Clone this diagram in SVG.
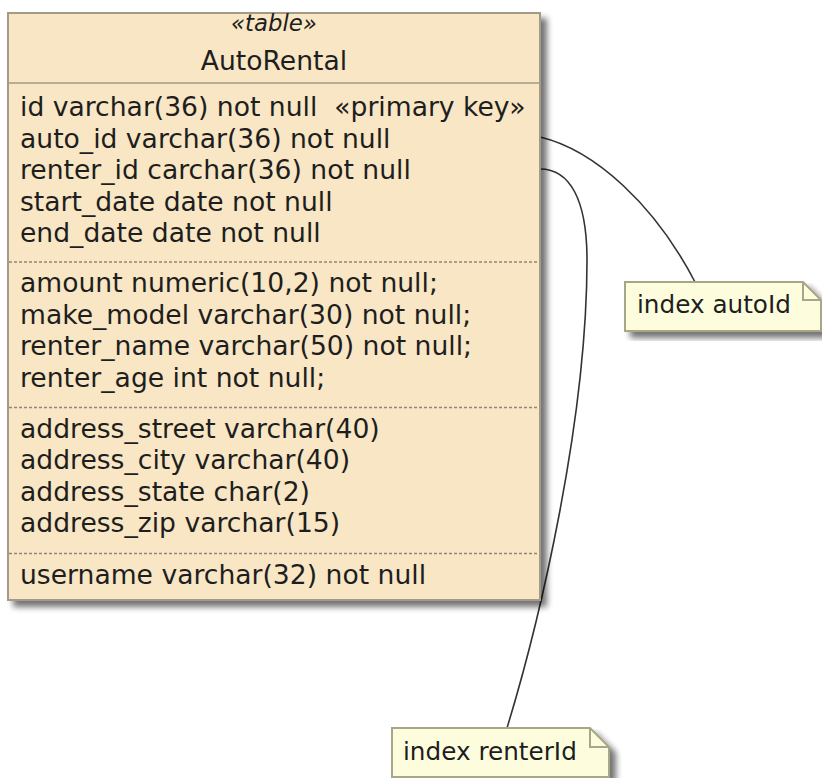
<svg xmlns="http://www.w3.org/2000/svg" width="822" height="778" viewBox="0 0 822 778">
<defs>
<filter id="shadow" x="-10%" y="-10%" width="130%" height="130%">
<feGaussianBlur in="SourceAlpha" stdDeviation="3"/>
<feOffset dx="6" dy="6" result="b"/>
<feComponentTransfer><feFuncA type="linear" slope="0.55"/></feComponentTransfer>
<feMerge><feMergeNode/><feMergeNode in="SourceGraphic"/></feMerge>
</filter>
<style>
.box{fill:#F8E6C4;stroke:#A39B86;stroke-width:2}
.sep{stroke:#A39B86;stroke-width:1.5}
.dash{stroke:#8E8878;stroke-width:1.5;stroke-dasharray:3,2}
.note{fill:#FDFDDE;stroke:#A8A68A;stroke-width:2}
.fold{fill:none;stroke:#A8A68A;stroke-width:2}
.t{font-family:"DejaVu Sans",sans-serif;font-size:26.6px;fill:#1e1e1e;white-space:pre}
.st{font-family:"DejaVu Sans",sans-serif;font-size:22.8px;font-style:italic;fill:#1e1e1e}
.nt{font-family:"DejaVu Sans",sans-serif;font-size:24.7px;fill:#1e1e1e}
.conn{fill:none;stroke:#333333;stroke-width:1.6}
</style>
</defs>
<rect width="822" height="778" fill="#FFFFFF"/>
<g id="connectors">
<path class="conn" d="M540,137 C595,150 655,205 695,282"/>
<path class="conn" d="M540,169 C570,169 587,200 587,260 C587,420 540,620 507,728"/>
</g>
<g id="AutoRental">
<rect class="box" x="8" y="13" width="532" height="587" filter="url(#shadow)"/>
<text class="st" x="274" y="31" text-anchor="middle">«table»</text>
<text class="t" x="274" y="70" text-anchor="middle">AutoRental</text>
<line class="sep" x1="8" y1="83" x2="540" y2="83"/>
<text class="t" x="20" y="116" xml:space="preserve">id varchar(36) not null  «primary key»</text>
<text class="t" x="20" y="147.5">auto_id varchar(36) not null</text>
<text class="t" x="20" y="179">renter_id carchar(36) not null</text>
<text class="t" x="20" y="210.5">start_date date not null</text>
<text class="t" x="20" y="242">end_date date not null</text>
<line class="dash" x1="9" y1="262" x2="539" y2="262"/>
<text class="t" x="20" y="292">amount numeric(10,2) not null;</text>
<text class="t" x="20" y="323.5">make_model varchar(30) not null;</text>
<text class="t" x="20" y="355">renter_name varchar(50) not null;</text>
<text class="t" x="20" y="386.5">renter_age int not null;</text>
<line class="dash" x1="9" y1="407.5" x2="539" y2="407.5"/>
<text class="t" x="20" y="437.5">address_street varchar(40)</text>
<text class="t" x="20" y="469">address_city varchar(40)</text>
<text class="t" x="20" y="500.5">address_state char(2)</text>
<text class="t" x="20" y="532">address_zip varchar(15)</text>
<line class="dash" x1="9" y1="553.5" x2="539" y2="553.5"/>
<text class="t" x="20" y="584">username varchar(32) not null</text>
</g>
<g id="note_autoId">
<path class="note" d="M625,282 L803,282 L821,300 L821,331 L625,331 Z" filter="url(#shadow)"/>
<path class="fold" d="M803,282 L803,300 L821,300"/>
<text class="nt" x="637" y="313">index autoId</text>
</g>
<g id="note_renterId">
<path class="note" d="M392,728 L590,728 L609,747 L609,777 L392,777 Z" filter="url(#shadow)"/>
<path class="fold" d="M590,728 L590,747 L609,747"/>
<text class="nt" x="403" y="760">index renterId</text>
</g>
</svg>
